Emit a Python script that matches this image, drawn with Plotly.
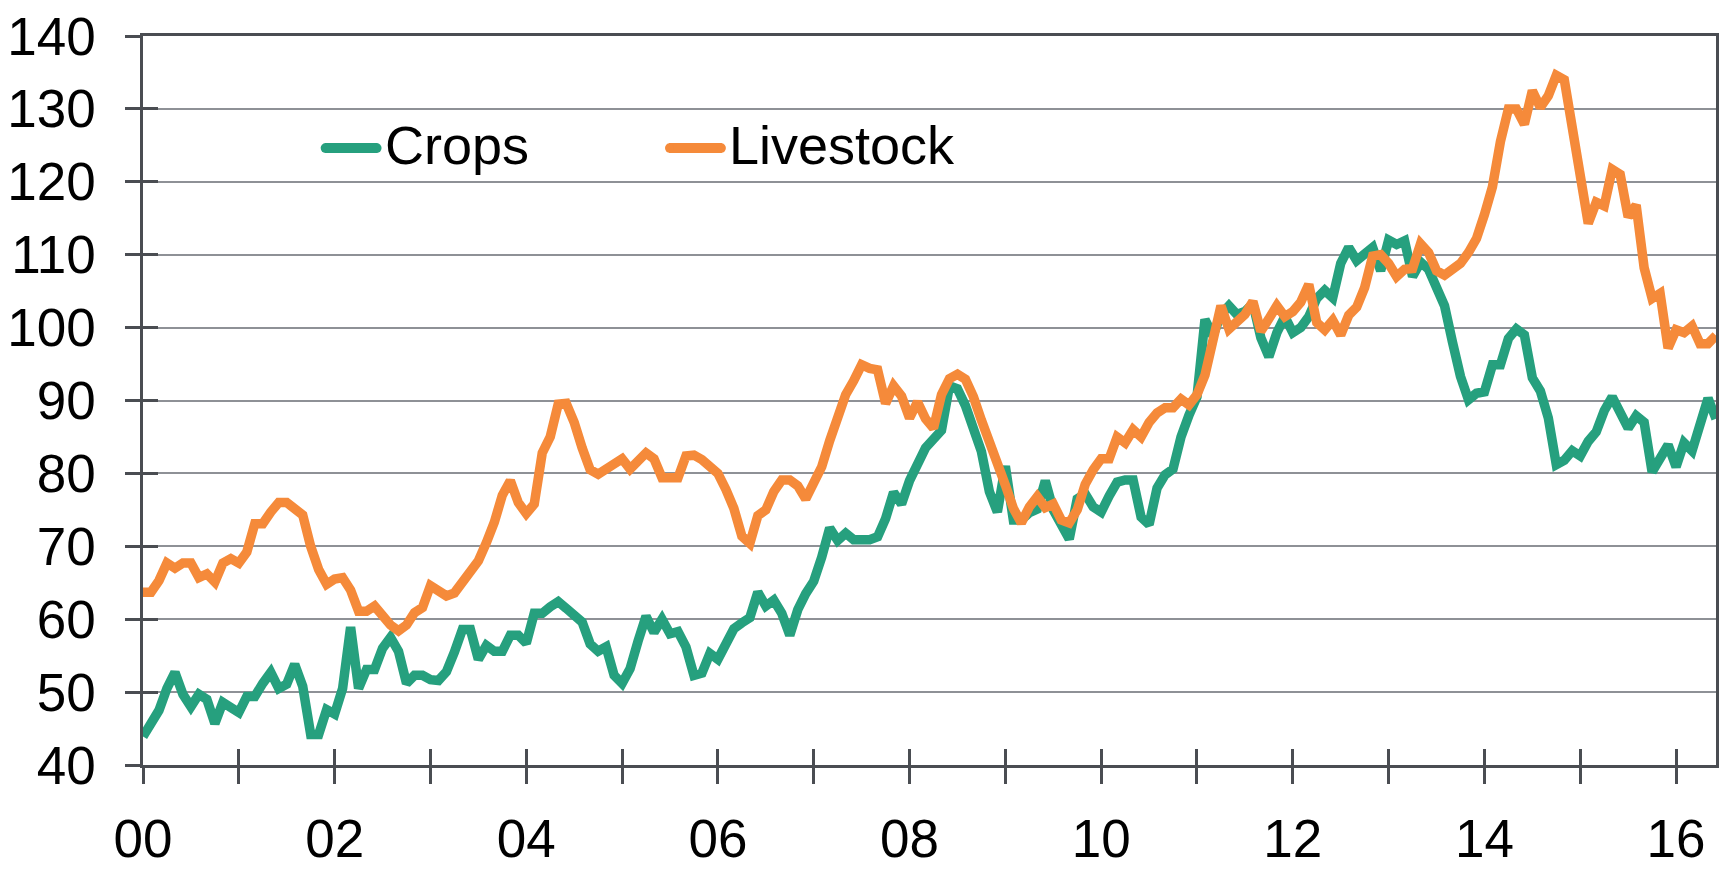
import plotly.graph_objects as go

start_year = 2000
crops = [
    43.9, 45.5, 47.5, 50.5, 52.7, 49.7, 48.0, 49.7, 49.0, 45.7, 48.6, 47.9,
    47.2, 49.4, 49.4, 51.2, 52.7, 50.5, 51.1, 53.8, 50.8, 44.2, 44.2, 47.6,
    47.0, 50.5, 58.9, 50.5, 53.1, 53.1, 56.0, 57.5, 55.6, 51.2, 52.3, 52.3,
    51.7, 51.6, 52.8, 55.5, 58.6, 58.6, 54.5, 56.4, 55.6, 55.6, 57.8, 57.8,
    56.7, 60.8, 60.8, 61.7, 62.4, 61.5, 60.5, 59.6, 56.6, 55.6, 56.2, 52.3,
    51.2, 53.2, 57.0, 60.4, 58.2, 60.0, 58.0, 58.3, 56.2, 52.3, 52.6, 55.3,
    54.5, 56.5, 58.7, 59.5, 60.2, 63.7, 61.8, 62.6, 60.8, 57.8, 61.3, 63.5,
    65.2, 68.5, 72.5, 70.8, 71.8, 70.9, 70.9, 70.9, 71.3, 73.8, 77.4, 75.8,
    79.0, 81.4, 83.5, 84.7, 85.9, 92.0, 91.6, 89.3, 86.5, 83.0, 77.5, 74.7,
    81.0, 73.6, 73.6, 74.6, 75.1, 79.0, 75.0, 73.0, 71.0, 76.5, 77.2, 75.4,
    74.7, 76.9, 78.8, 79.1, 79.1, 74.0, 73.0, 78.0, 79.8, 80.6, 85.0, 88.0,
    90.5, 101.1, 98.9, 101.8, 103.0, 101.8, 102.2, 103.3, 98.6, 96.0, 99.3, 101.5,
    99.3, 100.0, 101.5, 104.0, 105.1, 104.1, 108.8, 111.0, 109.2, 110.1, 111.0, 107.8,
    112.0, 111.4, 111.9, 107.0, 109.0, 108.0, 105.8, 103.0, 98.0, 93.3, 90.1, 91.0,
    91.2, 94.9, 94.9, 98.5, 99.8, 99.0, 93.1, 91.3, 87.6, 81.2, 81.8, 83.1,
    82.4, 84.4, 85.7, 88.6, 90.5, 88.4, 86.2, 87.9, 87.0, 80.2, 82.0, 83.9,
    80.9, 84.2, 83.1, 86.8, 90.3, 87.5,
]
livestock = [
    63.7, 63.7, 65.3, 67.7, 67.0, 67.7, 67.7, 65.7, 66.2, 65.1, 67.7, 68.3,
    67.7, 69.2, 73.1, 73.1, 74.7, 76.0, 76.0, 75.3, 74.3, 70.0, 66.8, 64.8,
    65.5, 65.7, 64.0, 61.1, 61.1, 61.8, 60.4, 59.2, 58.4, 59.2, 60.9, 61.6,
    64.6, 64.0, 63.2, 63.6, 65.0, 66.5, 68.0, 70.5, 73.3, 77.0, 79.0, 76.0,
    74.5, 75.8, 82.8, 85.0, 89.5, 89.6, 87.0, 83.5, 80.5, 79.9, 80.5, 81.2,
    82.0, 80.6, 81.8, 82.8, 82.0, 79.4, 79.4, 79.4, 82.4, 82.5, 81.9, 81.1,
    80.0, 77.8, 75.2, 71.4, 70.4, 74.2, 75.0, 77.5, 79.1, 79.1, 78.3, 76.5,
    78.5, 80.9, 84.5, 87.3, 90.8, 92.7, 94.9, 94.4, 94.2, 89.6, 92.0, 90.6,
    87.6, 89.8, 87.5, 86.2, 90.8, 93.0, 93.6, 92.9, 90.5, 87.3, 84.5, 82.0,
    78.4, 75.2, 73.2, 75.4, 76.8, 75.3, 75.8, 73.6, 73.2, 75.0, 78.5, 80.5,
    82.0, 82.0, 85.0, 84.2, 86.0, 85.0, 87.0, 88.3, 89.0, 89.0, 90.2, 89.4,
    90.8, 93.5, 98.5, 103.0, 99.8, 100.7, 101.8, 103.6, 99.5, 101.2, 103.0, 101.5,
    102.2, 103.5, 105.9, 100.7, 99.7, 101.0, 99.0, 101.7, 102.8, 105.5, 109.8, 110.0,
    108.8, 107.0, 108.0, 108.1, 111.5, 110.3, 107.8, 107.2, 108.0, 108.8, 110.3, 112.2,
    115.5, 119.3, 125.5, 130.0, 130.0, 127.9, 132.5, 130.2, 131.8, 134.6, 134.0, 128.0,
    120.7, 114.3, 117.2, 116.7, 121.7, 121.0, 115.2, 116.8, 108.2, 104.0, 104.7, 97.2,
    99.7, 99.3, 100.2, 97.8, 97.8, 98.9,
]
x_tick_years = list(range(2000, 2017))
x_tick_labels = [f"{y % 100:02d}" if y % 2 == 0 else "" for y in x_tick_years]
y_ticks = list(range(40, 141, 10))
legend_names = ["Crops", "Livestock"]

n = len(crops)
months = [start_year + i / 12 for i in range(n)]
x_end = months[-1]

GREEN = "#26A07E"
ORANGE = "#F58A3A"
FONT = "Liberation Sans, Arial, sans-serif"
axis_col = "#4A4D52"

W, H = 1726, 875
L, R, T, B = 143, 7, 28, 86
pw, ph = W - L - R, H - T - B

fig = go.Figure()
fig.add_trace(go.Scatter(x=months, y=crops, name=legend_names[0], mode="lines",
                         line=dict(color=GREEN, width=9.5), showlegend=False))
fig.add_trace(go.Scatter(x=months, y=livestock, name=legend_names[1], mode="lines",
                         line=dict(color=ORANGE, width=9.5), showlegend=False))
# invisible trace carrying the overlay axes (for crossing tick marks)
fig.add_trace(go.Scatter(x=[None], y=[None], xaxis="x2", yaxis="y2",
                         showlegend=False, hoverinfo="skip"))

# manual legend (swatch + label), positioned in paper units
def px_x(p):
    return (p - L) / pw

def px_y(p):
    return (H - B - p) / ph

legend_items = [(legend_names[0], GREEN, 321), (legend_names[1], ORANGE, 666)]
for name, col, x0 in legend_items:
    fig.add_shape(type="line", xref="paper", yref="paper",
                  x0=px_x(x0 + 4), x1=px_x(x0 + 57), y0=px_y(145), y1=px_y(145),
                  line=dict(color=col, width=10), layer="above")
    fig.add_shape(type="circle", xref="paper", yref="paper",
                  x0=px_x(x0), x1=px_x(x0 + 9), y0=px_y(140), y1=px_y(150),
                  fillcolor=col, line=dict(width=0), layer="above")
    fig.add_shape(type="circle", xref="paper", yref="paper",
                  x0=px_x(x0 + 52), x1=px_x(x0 + 61), y0=px_y(140), y1=px_y(150),
                  fillcolor=col, line=dict(width=0), layer="above")
    fig.add_annotation(x=px_x(x0 + 62), y=px_y(142), xref="paper", yref="paper",
                       text=name, showarrow=False, xanchor="left", yanchor="middle",
                       font=dict(family=FONT, size=54, color="black"))

fig.update_layout(
    width=W, height=H,
    margin=dict(l=L, r=R, t=T, b=B, pad=0),
    paper_bgcolor="white", plot_bgcolor="white",
    font=dict(family=FONT, size=53, color="black"),
    showlegend=False,
    xaxis=dict(range=[start_year, x_end], tickvals=x_tick_years, ticktext=x_tick_labels,
               ticks="outside", ticklen=16, tickwidth=2.5, tickcolor=axis_col,
               showline=True, linecolor=axis_col, linewidth=2.5, mirror=True,
               showgrid=False, zeroline=False, tickfont=dict(size=53),
               ticklabelstandoff=10, ticklabeloverflow="allow"),
    yaxis=dict(range=[40, 140], tickvals=y_ticks, ticks="outside", ticklen=15,
               tickwidth=2.5, tickcolor=axis_col, showline=True, linecolor=axis_col,
               linewidth=2.5, mirror=True, showgrid=True, gridcolor="#8E9196",
               gridwidth=2, zeroline=False, tickfont=dict(size=53),
               ticklabelstandoff=19, ticklabeloverflow="allow"),
    xaxis2=dict(overlaying="x", range=[start_year, x_end], tickvals=x_tick_years,
                ticks="inside", ticklen=16, tickwidth=2.5, tickcolor=axis_col,
                showticklabels=False, showgrid=False, showline=False, zeroline=False),
    yaxis2=dict(overlaying="y", range=[40, 140], tickvals=y_ticks,
                ticks="inside", ticklen=15, tickwidth=2.5, tickcolor=axis_col,
                showticklabels=False, showgrid=False, showline=False, zeroline=False),
)

fig.write_html("out.html", config={"displayModeBar": False},
               post_script="document.body.style.margin='0';document.body.style.overflow='hidden';")
